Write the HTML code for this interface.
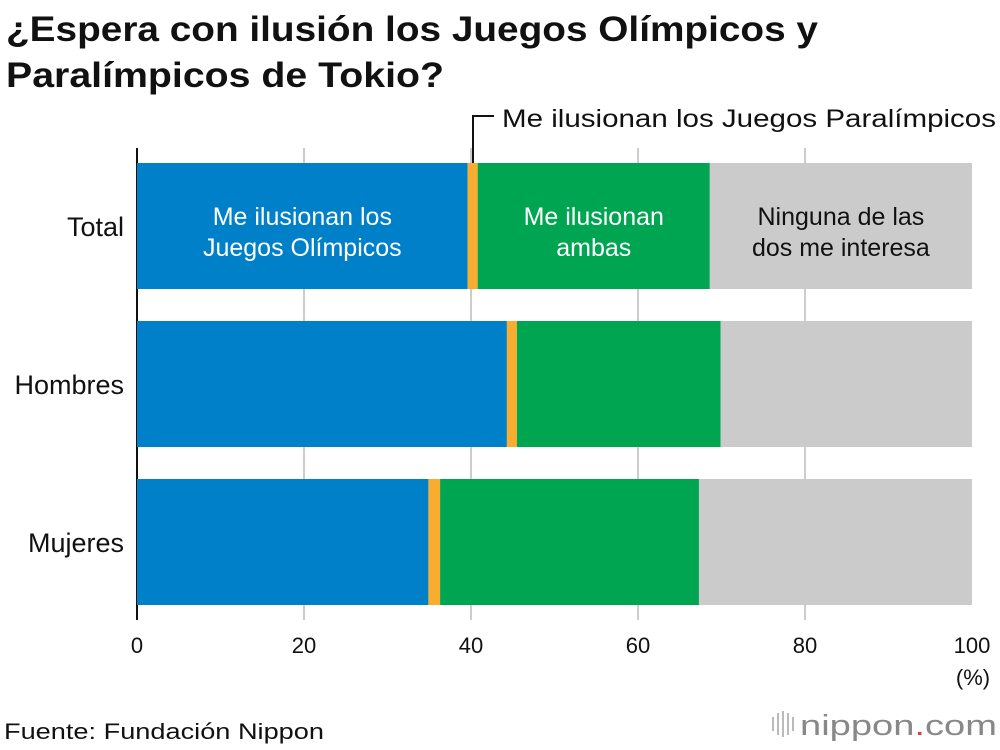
<!DOCTYPE html>
<html><head><meta charset="utf-8"><style>
body{margin:0;background:#fff;}
svg{display:block;font-family:"Liberation Sans",Arial,sans-serif;}
</style></head><body>
<svg id="chart" width="1000" height="750">
<text x="6" y="41" font-size="35" font-weight="bold" fill="#111" textLength="812" lengthAdjust="spacingAndGlyphs">¿Espera con ilusión los Juegos Olímpicos y</text>
<text x="6" y="87" font-size="35" font-weight="bold" fill="#111" textLength="438" lengthAdjust="spacingAndGlyphs">Paralímpicos de Tokio?</text>
<g id="grid"></g>
<g id="bars"></g>
<g id="labels"></g>
<path d="M473 163 V116 H494" fill="none" stroke="#111" stroke-width="2"/>
<text x="502" y="127" font-size="25" fill="#111" textLength="494" lengthAdjust="spacingAndGlyphs">Me ilusionan los Juegos Paralímpicos</text>
<text x="973" y="685" font-size="22" fill="#111" text-anchor="middle">(%)</text>
<text x="4" y="739" font-size="22" fill="#111" textLength="320" lengthAdjust="spacingAndGlyphs">Fuente: Fundación Nippon</text>
<g>
<g fill="#bbb"><rect x="772" y="717" width="2" height="14"/><rect x="777" y="713" width="2" height="22"/><rect x="782" y="711" width="2" height="26"/><rect x="787" y="713" width="2" height="22"/><rect x="792" y="717" width="2" height="14"/></g>
<text x="800" y="735" font-size="29" fill="#888" textLength="197" lengthAdjust="spacingAndGlyphs">nippon<tspan fill="#e04040">.</tspan>com</text>
</g>
</svg>
<script>
const categories=["Total","Hombres","Mujeres"];
const olimpicos=[39.6,44.3,34.9];
const paralimpicos=[1.2,1.2,1.4];
const ambas=[27.8,24.4,31.0];
const ticks=[0,20,40,60,80,100];
const NS="http://www.w3.org/2000/svg";
const x0=137,x1=972,barTop=163,step=158,barH=126;
function xs(v){return x0+(x1-x0)*v/100;}
function mk(tag,attrs,parent){const e=document.createElementNS(NS,tag);for(const k in attrs)e.setAttribute(k,attrs[k]);parent.appendChild(e);return e;}
const grid=document.getElementById('grid'),bars=document.getElementById('bars'),labels=document.getElementById('labels');
ticks.forEach(t=>{
 if(t>0&&t<100){const l=mk('line',{x1:xs(t),x2:xs(t),y1:148,y2:620,stroke:'#ccc','stroke-width':2},grid);
 
 }
 const tx=mk('text',{x:xs(t),y:653,'font-size':22,'text-anchor':'middle',fill:'#111'},grid);tx.textContent=t;
 
 
});
const colors=['#0080c8','#f9ad2e','#00a551','#cbcbcb'];
const segNames=['olimpicos','paralimpicos','ambas','ninguna'];
categories.forEach((c,i)=>{
 const y=barTop+i*step;
 const vals=[olimpicos[i],paralimpicos[i],ambas[i]];
 vals.push(100-vals[0]-vals[1]-vals[2]);
 let acc=0;
 vals.forEach((v,j)=>{
  const r=mk('rect',{x:xs(acc),y:y,width:xs(acc+v)-xs(acc),height:barH,fill:colors[j]},bars);
  
  
  acc+=v;
 });
 const lt=mk('text',{x:124,y:y+barH/2+10,'font-size':27,'text-anchor':'end',fill:'#111'},labels);lt.textContent=c;
 
 
});
const ax=mk('line',{x1:x0,x2:x0,y1:148,y2:620,stroke:'#111','stroke-width':2},grid);


const inb=[[olimpicos[0]/2,"Me ilusionan los","Juegos Olímpicos",'#fff','label-olimpicos'],
 [olimpicos[0]+paralimpicos[0]+ambas[0]/2,"Me ilusionan","ambas",'#fff','label-ambas'],
 [(olimpicos[0]+paralimpicos[0]+ambas[0]+100)/2,"Ninguna de las","dos me interesa",'#111','label-ninguna']];
inb.forEach(d=>{
 const t=mk('text',{x:xs(d[0]),y:225,'font-size':25,'text-anchor':'middle',fill:d[3]},labels);
 t.textContent=d[1];
 
 
 const t2=mk('text',{x:xs(d[0]),y:256,'font-size':25,'text-anchor':'middle',fill:d[3]},labels);
 t2.textContent=d[2];
 
 
});
</script>
</body></html>
